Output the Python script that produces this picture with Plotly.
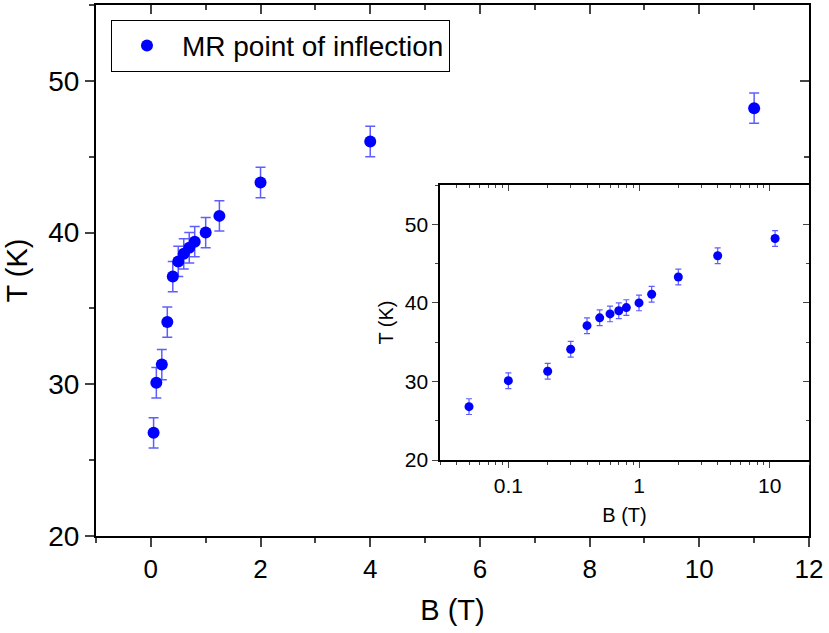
import plotly.graph_objects as go

B = [0.05, 0.1, 0.2, 0.3, 0.4, 0.5, 0.6, 0.7, 0.8, 1.0, 1.25, 2.0, 4.0, 11.0]
T = [26.8, 30.1, 31.3, 34.1, 37.1, 38.1, 38.6, 39.0, 39.4, 40.0, 41.1, 43.3, 46.0, 48.2]
T_err = [1.0] * len(T)

FONT = "Liberation Sans, Arial, sans-serif"
BLUE = "#0000ff"
ERRC = "rgba(40,40,255,0.75)"

fig = go.Figure()

fig.add_trace(go.Scatter(
    x=B, y=T, mode="markers", name="MR point of inflection",
    marker=dict(color=BLUE, size=12),
    error_y=dict(type="data", array=T_err, color=ERRC, thickness=1.5, width=5),
    xaxis="x", yaxis="y",
))
# invisible helpers for mirrored axes
fig.add_trace(go.Scatter(x=[B[0]], y=[T[0]], mode="markers", marker=dict(opacity=0),
                         showlegend=False, hoverinfo="skip", xaxis="x3", yaxis="y3"))

fig.add_trace(go.Scatter(
    x=B, y=T, mode="markers", showlegend=False,
    marker=dict(color=BLUE, size=9),
    error_y=dict(type="data", array=T_err, color=ERRC, thickness=1.2, width=3),
    xaxis="x2", yaxis="y2",
))
fig.add_trace(go.Scatter(x=[B[0]], y=[T[0]], mode="markers", marker=dict(opacity=0),
                         showlegend=False, hoverinfo="skip", xaxis="x4", yaxis="y4"))

log_minor = [0.03, 0.04, 0.05, 0.06, 0.07, 0.08, 0.09, 0.2, 0.3, 0.4, 0.5, 0.6, 0.7, 0.8, 0.9,
             2, 3, 4, 5, 6, 7, 8, 9, 20]

ins_x = [0.4825, 1.0]
ins_y = [0.143, 0.661]

common = dict(showgrid=False, zeroline=False, linecolor="black")

fig.update_layout(
    width=829, height=633,
    margin=dict(l=96, r=20, t=5, b=97),
    paper_bgcolor="white", plot_bgcolor="white",
    font=dict(family=FONT, color="black"),
    showlegend=True,
    legend=dict(x=0.021, y=0.972, xanchor="left", yanchor="top",
                bordercolor="black", borderwidth=1, bgcolor="white",
                font=dict(size=28, family=FONT), itemwidth=60),
    xaxis=dict(domain=[0, 1], range=[-1, 12], dtick=2, tick0=0, ticks="outside", ticklen=9,
               tickwidth=1.5, linewidth=2, showline=True, tickfont=dict(size=26),
               minor=dict(ticks="outside", dtick=1, ticklen=5, tickwidth=1.5),
               title=dict(text="B (T)", font=dict(size=29), standoff=16), **common),
    yaxis=dict(domain=[0, 1], range=[20, 55], dtick=10, ticks="outside", ticklen=9,
               tickwidth=1.5, linewidth=2, showline=True, tickfont=dict(size=28),
               minor=dict(ticks="outside", dtick=5, tick0=0, ticklen=5, tickwidth=1.5),
               title=dict(text="T (K)", font=dict(size=29), standoff=12), **common),
    xaxis3=dict(overlaying="x", side="top", range=[-1, 12], dtick=2, tick0=0,
                ticks="inside", ticklen=9, tickwidth=1.5, linewidth=2, showline=True,
                showticklabels=False, anchor="y",
                minor=dict(ticks="inside", dtick=1, ticklen=5, tickwidth=1.5), **common),
    yaxis3=dict(overlaying="y", side="right", range=[20, 55], dtick=10,
                ticks="inside", ticklen=9, tickwidth=1.5, linewidth=2, showline=True,
                showticklabels=False, anchor="x",
                minor=dict(ticks="inside", dtick=5, tick0=0, ticklen=5, tickwidth=1.5), **common),
    xaxis2=dict(domain=ins_x, anchor="y2", type="log", range=[-1.523, 1.301],
                tickvals=[0.1, 1, 10], ticktext=["0.1", "1", "10"],
                ticks="outside", ticklen=6, tickwidth=1, linewidth=1.5, showline=True,
                tickfont=dict(size=21),
                minor=dict(ticks="outside", tickvals=log_minor, ticklen=3, tickwidth=1),
                title=dict(text="B (T)", font=dict(size=20), standoff=12), **common),
    yaxis2=dict(domain=ins_y, anchor="x2", range=[20, 55], dtick=10,
                ticks="outside", ticklen=6, tickwidth=1, linewidth=1.5, showline=True,
                tickfont=dict(size=21),
                minor=dict(ticks="outside", dtick=5, tick0=0, ticklen=3, tickwidth=1),
                title=dict(text="T (K)", font=dict(size=20), standoff=6), **common),
    xaxis4=dict(overlaying="x2", side="top", anchor="y2", type="log", range=[-1.523, 1.301],
                tickvals=[0.1, 1, 10], ticks="inside", ticklen=6, tickwidth=1,
                linewidth=1.5, showline=True, showticklabels=False,
                minor=dict(ticks="inside", tickvals=log_minor, ticklen=3, tickwidth=1), **common),
    yaxis4=dict(overlaying="y2", side="right", anchor="x2", range=[20, 55], dtick=10,
                ticks="inside", ticklen=6, tickwidth=1, linewidth=1.5, showline=True,
                showticklabels=False,
                minor=dict(ticks="inside", dtick=5, tick0=0, ticklen=3, tickwidth=1), **common),
    shapes=[dict(type="rect", xref="paper", yref="paper", x0=ins_x[0], x1=ins_x[1],
                 y0=ins_y[0], y1=ins_y[1], fillcolor="white", line=dict(width=0), layer="below")],
)

fig.write_html("out.html")
